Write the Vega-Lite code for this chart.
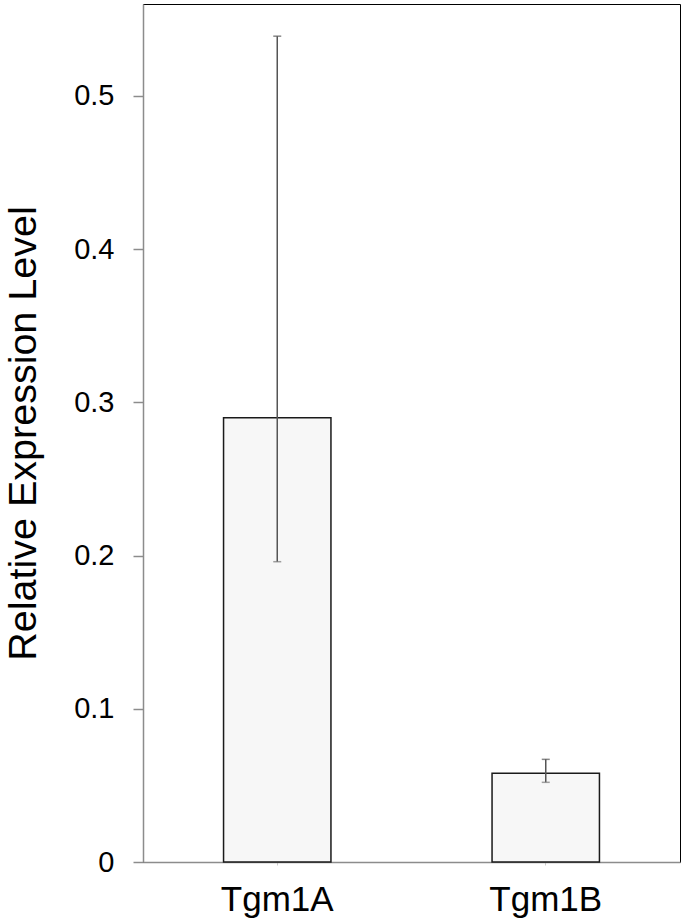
{
  "$schema": "https://vega.github.io/schema/vega-lite/v6.json",
  "width": 537,
  "height": 858,
  "autosize": {"type": "none"},
  "padding": {"left": 143, "top": 4, "right": 5, "bottom": 60},
  "background": "white",
  "config": {
    "font": "Liberation Sans",
    "view": {"stroke": "#000000", "strokeWidth": 1}
  },
  "data": {
    "values": [
      {"gene": "Tgm1A", "value": 0.290, "lo": 0.196, "hi": 0.539},
      {"gene": "Tgm1B", "value": 0.058, "lo": 0.052, "hi": 0.067}
    ]
  },
  "encoding": {
    "x": {
      "field": "gene",
      "type": "nominal",
      "sort": null,
      "scale": {"paddingInner": 0.6, "paddingOuter": 0.3},
      "axis": {
        "title": null,
        "labelAngle": 0,
        "labelFontSize": 35,
        "labelColor": "#000000",
        "labelPadding": 17,
        "tickSize": 3,
        "tickColor": "#cccccc",
        "domainColor": "#8c8c8c",
        "domainWidth": 1.5
      }
    }
  },
  "layer": [
    {
      "mark": {"type": "bar", "fill": "#f7f7f7", "stroke": "#1a1a1a", "strokeWidth": 1.5},
      "encoding": {
        "y": {
          "field": "value",
          "type": "quantitative",
          "scale": {"domain": [0, 0.56], "nice": false},
          "axis": {
            "title": "Relative Expression Level",
            "titleFontSize": 39.5,
            "titleFontWeight": "normal",
            "titleColor": "#000000",
            "titlePadding": 30,
            "values": [0, 0.1, 0.2, 0.3, 0.4, 0.5],
            "format": "~g",
            "labelFontSize": 29,
            "labelColor": "#000000",
            "labelPadding": 19,
            "tickSize": 10,
            "tickColor": "#8c8c8c",
            "tickWidth": 1.5,
            "domainColor": "#8c8c8c",
            "domainWidth": 1.5,
            "grid": false
          }
        }
      }
    },
    {
      "mark": {"type": "rule", "color": "#555555", "strokeWidth": 1.5},
      "encoding": {
        "y": {"field": "lo", "type": "quantitative"},
        "y2": {"field": "hi"}
      }
    },
    {
      "mark": {"type": "tick", "color": "#555555", "thickness": 1.5, "size": 8},
      "encoding": {"y": {"field": "hi", "type": "quantitative"}}
    },
    {
      "mark": {"type": "tick", "color": "#777777", "thickness": 1.5, "size": 8},
      "encoding": {"y": {"field": "lo", "type": "quantitative"}}
    }
  ]
}
